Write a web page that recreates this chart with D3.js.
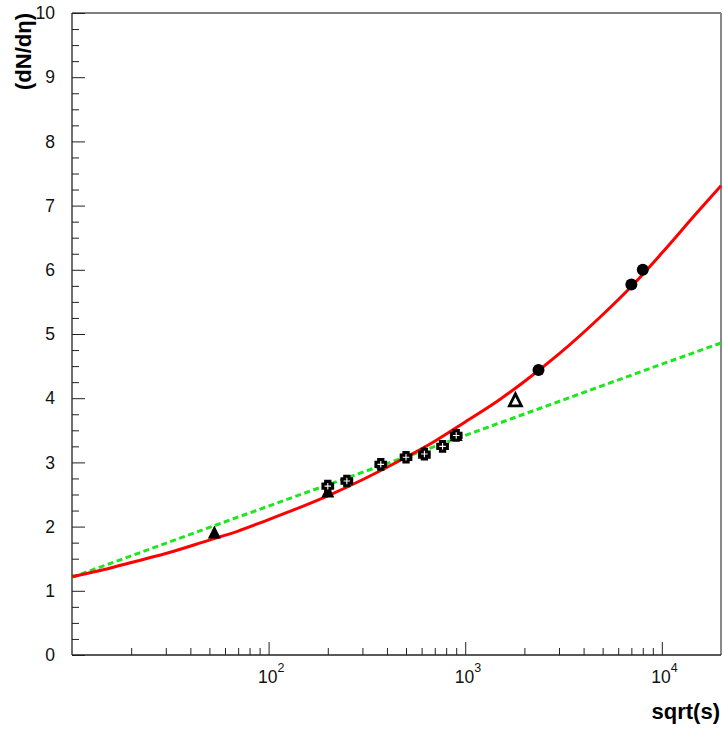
<!DOCTYPE html>
<html>
<head>
<meta charset="utf-8">
<script src="https://cdn.jsdelivr.net/npm/d3@7"></script>
<style>
  html, body { margin: 0; padding: 0; background: #fff; }
  svg { display: block; }
  text { font-family: "Liberation Sans", Arial, Helvetica, sans-serif; }
</style>
</head>
<body>
<svg id="chart" width="723" height="731"></svg>
<script>
// ---- data ----
const curveX = [10, 15, 20, 30, 50, 70, 100, 150, 200, 300, 500, 700, 1000, 1500, 2000, 3000, 5000, 7000, 10000, 15000, 20000];
const redFit = [1.22, 1.34, 1.44, 1.58, 1.79, 1.93, 2.11, 2.32, 2.48, 2.73, 3.08, 3.33, 3.63, 3.98, 4.26, 4.69, 5.30, 5.74, 6.26, 6.88, 7.31];
const greenX = [10, 100, 1000, 10000, 20000];
const greenFit = [1.21, 2.32, 3.42, 4.53, 4.86];

const triFilledX = [53, 200, 620, 900];
const triFilledY = [1.90, 2.54, 3.14, 3.42];
const crossX = [200, 250, 372, 500, 620, 767, 900];
const crossY = [2.63, 2.71, 2.97, 3.08, 3.13, 3.25, 3.42];
const triOpenX = [1800];
const triOpenY = [3.96];
const circleX = [2360, 7000, 8000];
const circleY = [4.44, 5.77, 6.00];

const yTickValues = [0, 1, 2, 3, 4, 5, 6, 7, 8, 9, 10];
const xMajorTicks = [100, 1000, 10000];
const xTickExponents = ["2", "3", "4"];
const yTitle = "(dN/dη)";
const xTitle = "sqrt(s)";

// ---- layout ----
const L = 72, R = 721, T = 13, B = 655;
const svg = d3.select("#chart");
const x = d3.scaleLog().domain([10, 20000]).range([L, R]);
const y = d3.scaleLinear().domain([0, 10]).range([B, T]);

// frame
svg.append("line").attr("x1", L).attr("x2", R).attr("y1", T).attr("y2", T).attr("stroke", "#000").attr("stroke-width", 1.2);
svg.append("line").attr("x1", R).attr("x2", R).attr("y1", T).attr("y2", B).attr("stroke", "#888").attr("stroke-width", 2);

// y axis ticks (inside)
const yMinor = d3.range(0, 10.001, 0.25);
const yAxis = d3.axisRight(y).tickValues(yMinor).tickSize(0).tickFormat("");
const gy = svg.append("g").attr("transform", `translate(${L},0)`).call(yAxis);
gy.select(".domain").remove();
gy.selectAll(".tick line")
  .attr("x2", d => Math.abs(d - Math.round(d)) < 1e-6 ? 13 : 7)
  .attr("stroke", "#222");
svg.append("line").attr("x1", L).attr("x2", L).attr("y1", T).attr("y2", B).attr("stroke", "#222").attr("stroke-width", 1.3);
// y tick labels
svg.append("g").selectAll("text").data(yTickValues).join("text")
  .attr("x", 55).attr("y", d => y(d)).attr("dy", "0.35em")
  .attr("text-anchor", "end").attr("font-size", 17.5).attr("fill", "#111")
  .text(d => d);

// x axis ticks (inside, pointing up)
const xMinor = [];
[10, 100, 1000, 10000].forEach(dec => { for (let k = 1; k <= 9; k++) { const v = dec * k; if (v > 10 && v < 20000) xMinor.push(v); } });
const xAxis = d3.axisTop(x).tickValues(xMinor).tickSize(0).tickFormat("");
const gx = svg.append("g").attr("transform", `translate(0,${B})`).call(xAxis);
gx.select(".domain").remove();
gx.selectAll(".tick line")
  .attr("y2", d => xMajorTicks.includes(d) ? -13 : -7)
  .attr("stroke", "#222");
svg.append("line").attr("x1", L).attr("x2", R).attr("y1", B).attr("y2", B).attr("stroke", "#222").attr("stroke-width", 1.3);
// x tick labels 10^n
const xl = svg.append("g").selectAll("text").data(xMajorTicks).join("text")
  .attr("x", d => x(d) - 10.5).attr("y", 683)
  .attr("font-size", 17.5).attr("fill", "#111");
xl.append("tspan").text("10");
xl.append("tspan").attr("dy", -11).attr("font-size", 12.5).text((d, i) => xTickExponents[i]);

// titles
svg.append("text").attr("transform", `translate(31,${T}) rotate(-90)`)
  .attr("text-anchor", "end").attr("font-size", 22).attr("font-weight", "bold").text(yTitle);
svg.append("text").attr("x", 720).attr("y", 719)
  .attr("text-anchor", "end").attr("font-size", 22).attr("font-weight", "bold").text(xTitle);

// curves
const line = d3.line().x(d => x(d[0])).y(d => y(d[1])).curve(d3.curveMonotoneX);
const plot = svg.append("g");
plot.append("path").datum(greenX.map((v, i) => [v, greenFit[i]]))
  .attr("d", line).attr("fill", "none").attr("stroke", "#1ee61e")
  .attr("stroke-width", 3).attr("stroke-dasharray", "6,3.5");
plot.append("path").datum(curveX.map((v, i) => [v, redFit[i]]))
  .attr("d", line).attr("fill", "none").attr("stroke", "#ff0000")
  .attr("stroke-width", 3);

// markers
const triPath = s => `M0,${-s * 0.58}L${s / 2},${s * 0.42}L${-s / 2},${s * 0.42}Z`;
plot.append("g").selectAll("path").data(triFilledX.map((v, i) => [v, triFilledY[i]])).join("path")
  .attr("transform", d => `translate(${x(d[0])},${y(d[1])})`)
  .attr("d", triPath(13)).attr("fill", "#000");

const a = 4.8, w = 2.1;
const crossPath = `M${-w},${-a}H${w}V${-w}H${a}V${w}H${w}V${a}H${-w}V${w}H${-a}V${-w}H${-w}Z`;
plot.append("g").selectAll("path").data(crossX.map((v, i) => [v, crossY[i]])).join("path")
  .attr("transform", d => `translate(${x(d[0])},${y(d[1])})`)
  .attr("d", crossPath).attr("fill", "#fff").attr("stroke", "#000").attr("stroke-width", 3.1);

plot.append("g").selectAll("path").data(triOpenX.map((v, i) => [v, triOpenY[i]])).join("path")
  .attr("transform", d => `translate(${x(d[0])},${y(d[1])})`)
  .attr("d", triPath(12)).attr("fill", "#fff").attr("stroke", "#000").attr("stroke-width", 2.8)
  .attr("stroke-linejoin", "miter");

plot.append("g").selectAll("circle").data(circleX.map((v, i) => [v, circleY[i]])).join("circle")
  .attr("cx", d => x(d[0])).attr("cy", d => y(d[1])).attr("r", 6).attr("fill", "#000");
</script>
</body>
</html>
